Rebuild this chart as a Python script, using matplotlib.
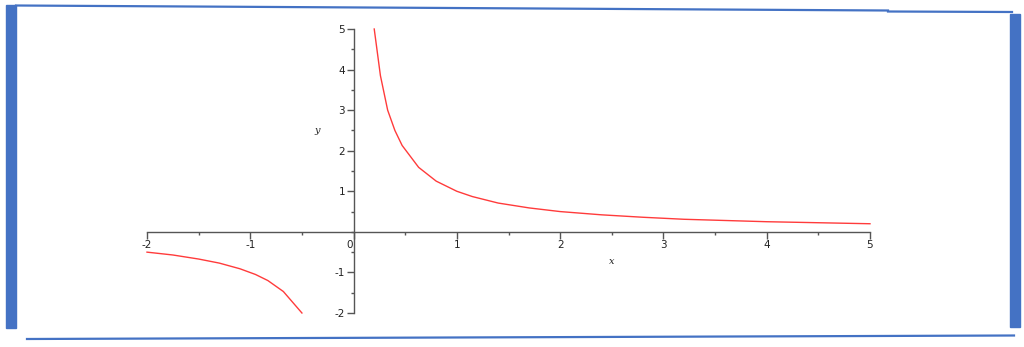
import matplotlib
matplotlib.use("Agg")
import matplotlib.pyplot as plt
import matplotlib.transforms as mtransforms
from matplotlib.ticker import MultipleLocator

x_pos = [0.2, 0.26, 0.33, 0.4, 0.47, 0.63, 0.8, 1.0, 1.15, 1.4, 1.7, 2.0,
         2.4, 2.8, 3.2, 3.6, 4.0, 4.4, 4.8, 5.0]
y_pos = [5.0, 3.85, 3.0, 2.5, 2.13, 1.59, 1.25, 1.0, 0.87, 0.71, 0.59, 0.5,
         0.42, 0.36, 0.31, 0.28, 0.25, 0.23, 0.21, 0.2]
x_neg = [-2.0, -1.75, -1.5, -1.3, -1.1, -0.95, -0.83, -0.68, -0.5]
y_neg = [-0.5, -0.57, -0.67, -0.77, -0.91, -1.05, -1.2, -1.47, -2.0]
x_ticks = [-2, -1, 0, 1, 2, 3, 4, 5]
y_ticks = [-2, -1, 1, 2, 3, 4, 5]

W, H = 1024, 347
fig = plt.figure(figsize=(W / 100, H / 100), dpi=100)
fig.patch.set_facecolor("white")

# decoration overlay
deco = fig.add_axes([0, 0, 1, 1])
deco.set_xlim(0, W)
deco.set_ylim(H, 0)
deco.axis("off")
blue = "#4472C4"
deco.add_patch(plt.Rectangle((6, 5), 10, 323, color=blue, zorder=1))
deco.add_patch(plt.Rectangle((1010, 14), 10, 313, color=blue, zorder=1))
deco.plot([16, 888], [5.5, 10.5], color=blue, lw=1.6)
deco.plot([888, 1012], [11.5, 12], color=blue, lw=1.6)
deco.plot([27, 1014], [339, 335.5], color=blue, lw=1.6)

left_px, right_px = 147, 870
top_px, bot_px = 29, 313
ax = fig.add_axes([left_px / W, (H - bot_px) / H, (right_px - left_px) / W,
                   (bot_px - top_px) / H])
ax.patch.set_alpha(0)
ax.set_xlim(-2, 5)
ax.set_ylim(-2, 5)
axcol = "#555555"
for s in ["top", "right"]:
    ax.spines[s].set_visible(False)
ax.spines["left"].set_position(("data", 0))
ax.spines["bottom"].set_position(("data", 0))
ax.spines["left"].set_color(axcol)
ax.spines["bottom"].set_color(axcol)
ax.spines["left"].set_linewidth(1.0)
ax.spines["bottom"].set_linewidth(1.0)

ax.set_xticks(x_ticks)
ax.set_xticklabels([str(v) for v in x_ticks])
ax.set_yticks(y_ticks)
ax.set_yticklabels([str(v) for v in y_ticks])
ax.xaxis.set_minor_locator(MultipleLocator(0.5))
ax.yaxis.set_minor_locator(MultipleLocator(0.5))
ax.tick_params(which="major", direction="out", length=5, width=1, color=axcol,
               labelsize=7.5, pad=1, labelcolor="#222222")
ax.tick_params(which="minor", direction="out", length=2.5, width=1, color=axcol)

# shift the "0" label slightly left of the y axis as in the reference
for lab in ax.get_xticklabels():
    if lab.get_text() == "0":
        lab.set_transform(lab.get_transform() +
                          mtransforms.ScaledTranslation(-4 / 100, 0, fig.dpi_scale_trans))

ax.plot(x_pos, y_pos, color="#FF3B3B", lw=1.0, clip_on=False)
ax.plot(x_neg, y_neg, color="#FF3B3B", lw=1.0, clip_on=False)

ax.text(2.5, -0.72, "x", style="italic", fontsize=7, ha="center", va="center",
        color="#222222", family="DejaVu Serif")
ax.text(-0.35, 2.5, "y", style="italic", fontsize=7, ha="center", va="center",
        color="#222222", family="DejaVu Serif")

fig.savefig("out.png", dpi=100, facecolor="white")
